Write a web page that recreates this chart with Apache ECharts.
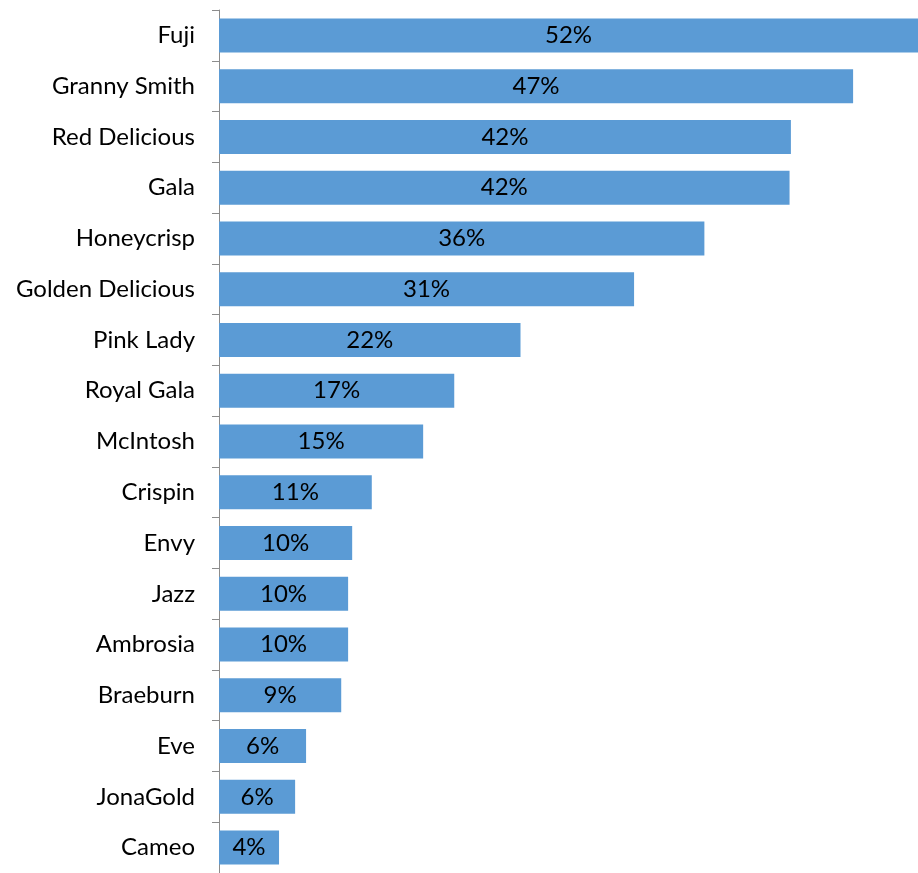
<!DOCTYPE html>
<html><head><meta charset="utf-8">
<script src="https://cdn.jsdelivr.net/npm/echarts@6/dist/echarts.min.js"></script>
<style>html,body{margin:0;padding:0;background:#fff}#c{width:918px;height:873px}</style>
</head><body><div id="c"></div>
<script>
const categories = ["Fuji","Granny Smith","Red Delicious","Gala","Honeycrisp","Golden Delicious","Pink Lady","Royal Gala","McIntosh","Crispin","Envy","Jazz","Ambrosia","Braeburn","Eve","JonaGold","Cameo"];
const values = [52.2,46.9,42.3,42.2,35.9,30.7,22.3,17.4,15.1,11.3,9.85,9.55,9.55,9.04,6.44,5.63,4.44];
const xMax = 51.7;

const chart = echarts.init(document.getElementById('c'), null, {renderer:'canvas'});
chart.setOption({
  animation:false,
  grid:{left:219, top:10, right:0, height:868, containLabel:false},
  xAxis:{type:'value', min:0, max:xMax, show:false},
  yAxis:{type:'category', data:categories, inverse:true,
    axisLine:{show:true, lineStyle:{color:'#8c8c8c', width:1}},
    axisTick:{show:true, length:7, alignWithLabel:false, lineStyle:{color:'#8c8c8c'}},
    axisLabel:{margin:24, color:'#000', fontFamily:'Lato', fontSize:24},
    splitLine:{show:false}
  },
  series:[{type:'bar', data:values, barCategoryGap:'33%',
    itemStyle:{color:'#5B9BD5'},
    label:{show:true, position:'inside', color:'#000', fontFamily:'Lato', fontSize:24,
      formatter:p=>Math.round(p.value)+'%'}
  }]
});
</script></body></html>
